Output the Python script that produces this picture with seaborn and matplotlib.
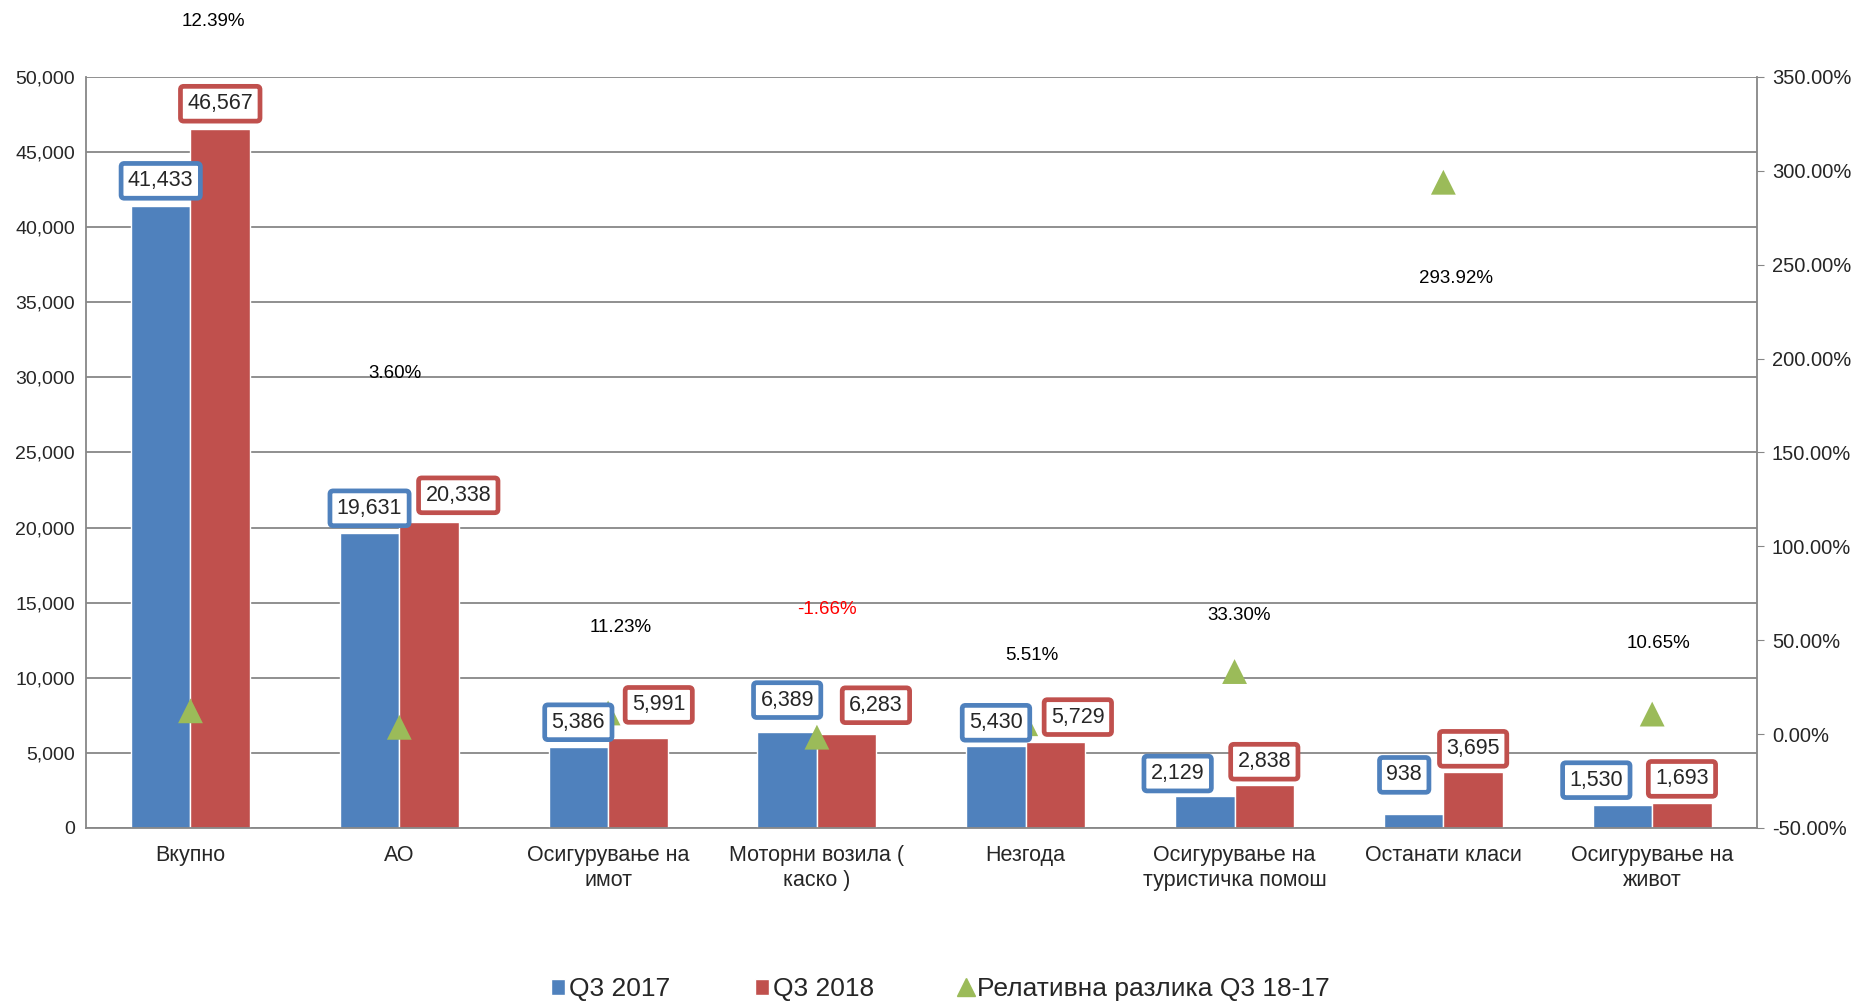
import numpy as np
import pandas as pd
import matplotlib
matplotlib.use('Agg')
import matplotlib.pyplot as plt
import seaborn as sns
from matplotlib.patches import Patch
from matplotlib.lines import Line2D

# Data
categories = ['Вкупно', 'АО', 'Осигурување на\nимот', 'Моторни возила (\nкаско )',
              'Незгода', 'Осигурување на\nтуристичка помош', 'Останати класи',
              'Осигурување на\nживот']
q3_2017 = [41433, 19631, 5386, 6389, 5430, 2129, 938, 1530]
q3_2018 = [46567, 20338, 5991, 6283, 5729, 2838, 3695, 1693]
rel_diff = [12.39, 3.60, 11.23, -1.66, 5.51, 33.30, 293.92, 10.65]
series_names = ['Q3 2017', 'Q3 2018']
diff_name = 'Релативна разлика Q3 18-17'

# label placement (layout only)
blue_dx = [0, 0, 0, 0, 0, -0.13, -0.045, -0.125]
red_dx = [0, 0.14, 0.10, 0.14, 0.107, 0, 0, 0]
blue_dy = [21, 21, 21, 27, 20, 19, 33, 21]
red_dy = [21, 23, 28, 24, 21, 20, 20, 20]
pct_label_y = [379.6, 192, 56.9, 66.4, 41.8, 63.2, 242.5, 48.1]
pct_label_dx = [0.11, -0.02, 0.06, 0.05, 0.03, 0.02, 0.06, 0.03]

BLUE = '#4F81BD'
RED = '#C0504D'
GREEN = '#9BBB59'
GRID = '#878787'

df = pd.DataFrame({
    'category': categories * 2,
    'value': q3_2017 + q3_2018,
    'period': [series_names[0]] * len(categories) + [series_names[1]] * len(categories),
})

sns.set_style('white')
plt.rcParams['font.family'] = ['Liberation Sans', 'DejaVu Sans']

fig = plt.figure(figsize=(18.51, 10.06), dpi=100)
ax = fig.add_axes([0.0465, 0.177, 0.9025, 0.7465])

sns.barplot(data=df, x='category', y='value', hue='period', palette=[BLUE, RED],
            width=0.57, gap=0, ax=ax, legend=False, saturation=1)

ax.set_ylim(0, 50000)
ax.set_xlim(-0.5, len(categories) - 0.5)
ax.set_yticks(np.arange(0, 50001, 5000))
ax.set_yticklabels([f'{v:,}' for v in range(0, 50001, 5000)], fontsize=14)
ax.yaxis.grid(True, color=GRID, linewidth=1.3)
ax.set_axisbelow(True)
ax.set_xlabel('')
ax.set_ylabel('')
ax.tick_params(axis='x', labelsize=15.5, length=0, pad=12)
ax.tick_params(axis='y', length=0, pad=8)
for s in ['left', 'bottom', 'right', 'top']:
    ax.spines[s].set_color(GRID)
    ax.spines[s].set_linewidth(1.3)
ax.spines['top'].set_visible(False)
for lbl in ax.get_xticklabels():
    lbl.set_linespacing(1.3)

# relative difference on secondary axis
ax2 = ax.twinx()
pos = np.arange(len(categories))
sns.scatterplot(x=pos, y=rel_diff, marker='^', color=GREEN, s=320, edgecolor='none',
                ax=ax2, zorder=2)
ax2.set_ylim(-50, 350)
ax2.set_xlim(-0.5, len(categories) - 0.5)
ax2.set_yticks(np.arange(-50, 351, 50))
ax2.set_yticklabels([f'{v:.2f}%' for v in np.arange(-50, 351, 50)], fontsize=14.5)
ax2.tick_params(axis='y', length=5, color=GRID, pad=6)
for s in ['left', 'bottom', 'right', 'top']:
    ax2.spines[s].set_visible(False)
ax2.grid(False)

for i, (v, ly, ldx) in enumerate(zip(rel_diff, pct_label_y, pct_label_dx)):
    ax2.text(i + ldx, ly, f'{v:.2f}%', ha='center', va='center', fontsize=13.5,
             color='red' if v < 0 else 'black', clip_on=False)

# value labels in coloured boxes (drawn above the triangles)
for cont, color, dxs, dys in zip(ax.containers, [BLUE, RED], [blue_dx, red_dx], [blue_dy, red_dy]):
    for bar, dx, dy in zip(cont, dxs, dys):
        h = bar.get_height()
        x = bar.get_x() + bar.get_width() / 2 + dx
        ax2.annotate(f'{int(h):,}', xy=(x, h), xycoords=ax.transData,
                     xytext=(0, dy * 0.85), textcoords='offset points',
                     ha='center', va='center', fontsize=15.5, zorder=5,
                     bbox=dict(boxstyle='round,pad=0.32,rounding_size=0.15', fc='white',
                               ec=color, lw=3.4))

handles = [Patch(facecolor=BLUE, label=series_names[0]),
           Patch(facecolor=RED, label=series_names[1]),
           Line2D([], [], marker='^', linestyle='none', color=GREEN, markersize=13,
                  label=diff_name)]
fig.legend(handles=handles, loc='center', bbox_to_anchor=(0.508, 0.017), ncol=3,
           frameon=False, handlelength=0.55, handleheight=0.55,
           handletextpad=0.15, columnspacing=3.2,
           prop={'family': ['Liberation Sans Narrow', 'Liberation Sans'], 'size': 19})

fig.savefig('out.png', dpi=100)
